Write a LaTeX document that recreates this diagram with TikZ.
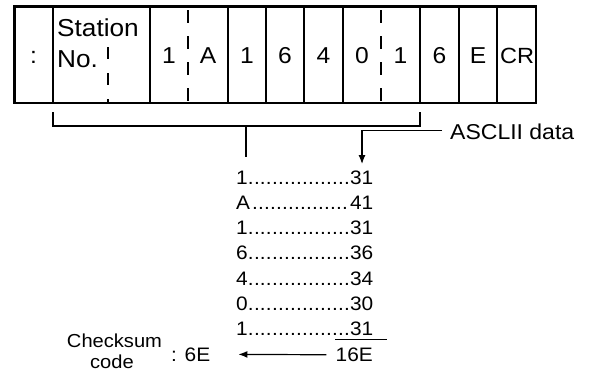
\documentclass[tikz,border=0pt]{standalone}
\usepackage{fontspec}
\setmainfont[FakeStretch=1.07]{Liberation Sans}
\usetikzlibrary{arrows.meta}
\newcommand\dotrow[2]{\hbox to 137pt{#1\cleaders\hbox to 6pt{\hss.\hss}\hfill#2}}
\begin{document}
\begin{tikzpicture}[x=1pt,y=-1pt,
  cell/.style={inner sep=0pt, anchor=base, font=\fontsize{23}{27}\selectfont},
  stn/.style={inner sep=0pt, anchor=base west, font=\fontsize{24.5}{29}\selectfont},
  row/.style={inner sep=0pt, anchor=base west, font=\fontsize{19.5}{23}\selectfont},
  lbl/.style={inner sep=0pt, font=\fontsize{19.5}{23}\selectfont},
  sep/.style={line width=1.1pt},
  dsep/.style={line width=1.1pt, dash pattern=on 13pt off 13pt, dash phase=22pt},
  conn/.style={line width=1.2pt},
  arr/.style={line width=1.2pt, -{Latex[length=9pt,width=7pt]}}]
\useasboundingbox (0,0) rectangle (589,372);
% frame
\draw[line width=2.6pt] (14.7,6.2) rectangle (536,103);
\foreach \x in {53,150,228,266,304,343,420,459,497}
  \draw[sep] (\x,6.2) -- (\x,103);
\foreach \x in {188,381}
  \draw[dsep] (\x,6.2) -- (\x,103);
\draw[line width=1.1pt, dash pattern=on 12pt off 14pt] (108,47) -- (108,103);
% cell texts
\node[cell] (c0) at (33.5,63) {:};
\node[stn] (st) at (57,36) {Station};
\node[stn] (no) at (57,67) {No.};
\node[cell] (c1) at (169,63) {1};
\node[cell] (c2) at (208,63) {A};
\node[cell] (c3) at (247,63) {1};
\node[cell] (c4) at (285,63) {6};
\node[cell] (c5) at (323.5,63) {4};
\node[cell] (c6) at (362,63) {0};
\node[cell] (c7) at (400.5,63) {1};
\node[cell] (c8) at (439.5,63) {6};
\node[cell] (c9) at (478,63) {E};
\node[cell, font=\fontsize{22}{26}\selectfont] (c10) at (517,63) {CR};
% bracket
\coordinate (bl) at (53,112);
\coordinate (br) at (420,112);
\coordinate (bm) at (246,126);
\coordinate (bs) at (246,157);
\draw[conn] (bl) |- (bm) -| (br);
\draw[conn] (bm) -- (bs);
% ASCII label
\node[lbl, font=\fontsize{21.5}{25}\selectfont, anchor=base west] (asc) at (450,139.5) {ASCLII data};
\coordinate (tip) at (362,164);
\draw[arr] ([xshift=-8pt,yshift=1pt]asc.west) -| (tip);
% list
\node[row] (r1) at (236,184) {\dotrow{1}{31}};
\node[row] (r2) at (236,209.3) {\dotrow{A}{41}};
\node[row] (r3) at (236,234.6) {\dotrow{1}{31}};
\node[row] (r4) at (236,259.9) {\dotrow{6}{36}};
\node[row] (r5) at (236,285.2) {\dotrow{4}{34}};
\node[row] (r6) at (236,310.5) {\dotrow{0}{30}};
\node[row] (r7) at (236,335.8) {\dotrow{1}{31}};
\node[row, anchor=base east] (sum) at (373,361.5) {16E};
\draw[conn] (335,339.5) -- (387,339.5);
% checksum
\node[lbl, anchor=base west] (cs) at (171,361) {: 6E};
\node[lbl, font=\fontsize{18.8}{21}\selectfont, anchor=base] (ck1) at (114.5,347.3) {Checksum};
\node[lbl, font=\fontsize{18.8}{21}\selectfont, anchor=base] (ck2) at (112,368) {code};
\draw[arr, shorten <=9pt, shorten >=28pt] (sum.west) -- (cs.east);
\end{tikzpicture}
\end{document}
